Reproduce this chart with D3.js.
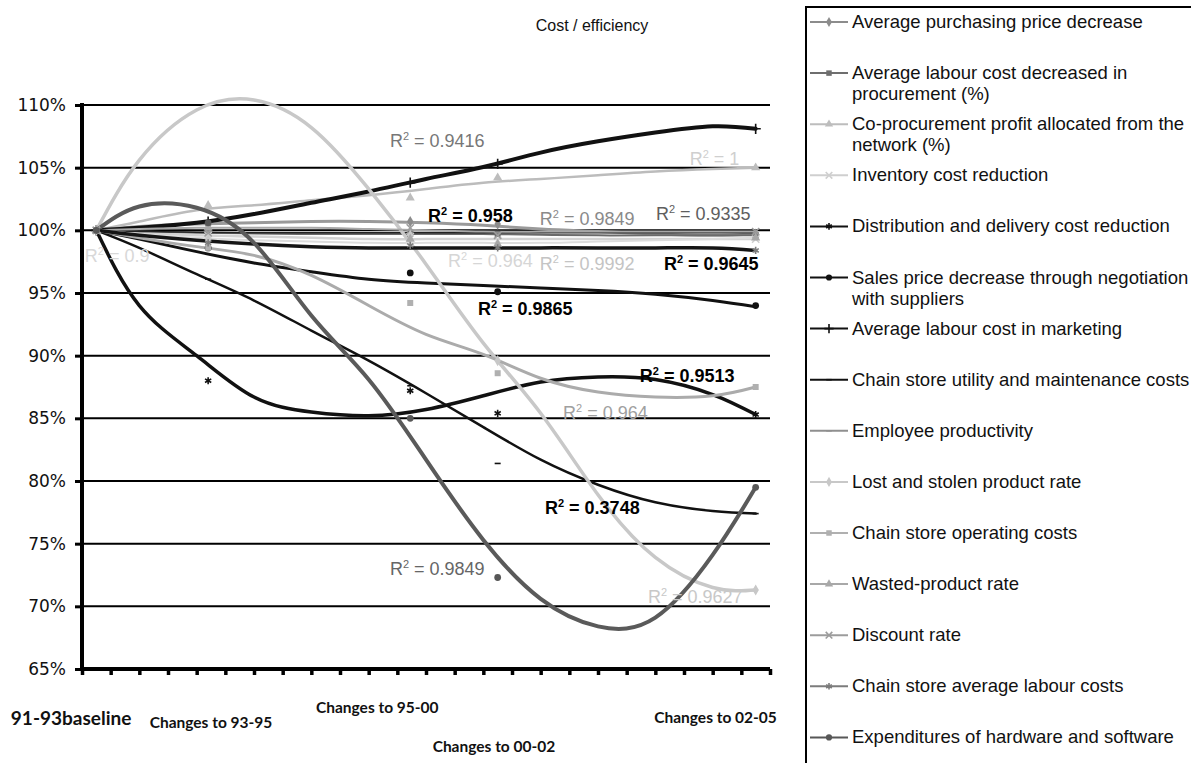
<!DOCTYPE html>
<html>
<head>
<meta charset="utf-8">
<script src="https://cdn.jsdelivr.net/npm/d3@7"></script>
<style>
  body { margin: 0; background: #fff; }
</style>
</head>
<body>
<div id="chart-area"></div>
<script>
/*
*    cost / efficiency trend chart
*/
var categories = ["91-93baseline", "Changes to 93-95", "Changes to 95-00", "Changes to 00-02", "Changes to 02-05"];
var categoryX = [0.5, 4.4, 11.45, 14.5, 23.5];
var yTicks = [65, 70, 75, 80, 85, 90, 95, 100, 105, 110];

var seriesNames = [
  "Average purchasing price decrease",
  "Average labour cost decreased in procurement (%)",
  "Co-procurement profit allocated from the network (%)",
  "Inventory cost reduction",
  "Distribution and delivery cost reduction",
  "Sales price decrease through negotiation with suppliers",
  "Average labour cost in marketing",
  "Chain store utility and maintenance costs",
  "Employee productivity",
  "Lost and stolen product rate",
  "Chain store operating costs",
  "Wasted-product rate",
  "Discount rate",
  "Chain store average labour costs",
  "Expenditures of hardware and software"
];

// observed values (%) per category
var seriesValues = [
  [100, 100.4, 100.7, 100.5, 99.7],
  [100, 99.9, 99.7, 99.7, 99.6],
  [100, 102.0, 102.6, 104.2, 105.0],
  [100, 99.6, 99.5, 99.2, 99.3],
  [100, 88.0, 87.2, 85.4, 85.3],
  [100, 98.6, 96.6, 95.1, 94.0],
  [100, 100.7, 103.8, 105.3, 108.1],
  [100, 96.1, 87.6, 81.4, 77.4],
  [100, 99.9, 99.8, 99.8, 99.8],
  [100, 99.2, 99.6, 89.6, 71.3],
  [100, 98.6, 94.2, 88.6, 87.5],
  [100, 100.2, 99.3, 98.9, 99.4],
  [100, 99.8, 100.2, 99.6, 99.9],
  [100, 99.0, 98.8, 98.6, 98.4],
  [100, 100.6, 85.0, 72.3, 79.5]
];

// trendline values at these x positions
var trendX = [0.5, 2, 4, 6, 8, 10, 12, 14, 16, 18, 20, 22, 23.5];
var trendValues = [
  [100, 100.3, 100.5, 100.6, 100.7, 100.7, 100.6, 100.4, 100.1, 99.9, 99.7, 99.6, 99.7],
  [100, 99.9, 99.8, 99.75, 99.7, 99.7, 99.7, 99.7, 99.65, 99.6, 99.6, 99.6, 99.6],
  [100, 100.7, 101.6, 102.0, 102.4, 102.8, 103.3, 103.8, 104.1, 104.4, 104.7, 104.9, 105.0],
  [100, 99.8, 99.6, 99.5, 99.4, 99.3, 99.3, 99.3, 99.3, 99.3, 99.3, 99.3, 99.3],
  [100, 94.0, 90.0, 86.7, 85.5, 85.2, 85.7, 86.8, 87.9, 88.3, 88.1, 86.9, 85.3],
  [100, 99.3, 98.3, 97.4, 96.7, 96.1, 95.8, 95.6, 95.4, 95.2, 94.9, 94.4, 93.9],
  [100, 100.2, 100.6, 101.3, 102.2, 103.1, 104.1, 105.05, 106.2, 107.1, 107.8, 108.3, 108.1],
  [100, 98.6, 96.5, 94.4, 92.0, 89.6, 87.0, 84.3, 81.7, 79.7, 78.3, 77.6, 77.4],
  [100, 99.9, 99.85, 99.8, 99.8, 99.8, 99.8, 99.8, 99.8, 99.8, 99.8, 99.8, 99.8],
  [100, 105.6, 109.6, 110.4, 108.2, 103.3, 97.3, 91.0, 85.4, 78.9, 73.9, 71.5, 71.3],
  [100, 99.4, 98.7, 98.0, 96.4, 94.0, 91.7, 90.1, 88.2, 87.1, 86.7, 86.8, 87.5],
  [100, 99.7, 99.4, 99.2, 99.1, 99.0, 99.0, 99.0, 99.0, 99.1, 99.2, 99.3, 99.4],
  [100, 100.1, 100.2, 100.2, 100.2, 100.1, 100.0, 99.9, 99.9, 99.9, 99.9, 99.9, 99.9],
  [100, 99.6, 99.2, 98.9, 98.7, 98.6, 98.6, 98.6, 98.6, 98.6, 98.6, 98.6, 98.4],
  [100, 101.9, 101.8, 99.0, 93.2, 88.1, 81.7, 75.3, 70.6, 68.4, 69.1, 74.1, 79.5]
];

var r2Values = ["0.9849", "0.9335", "1", "0.9992", "0.9513", "0.9865", "0.9416", "0.3748",
  "0.958", "0.9627", "0.964", "0.964", "0.9", "0.9645", "0.9849"];

// styling / layout
var markerColors = ["#8c8c8c", "#6e6e6e", "#bdbdbd", "#cfcfcf", "#111", "#111", "#111", "#111",
  "#8f8f8f", "#c8c8c8", "#b0b0b0", "#a8a8a8", "#9c9c9c", "#7c7c7c", "#575757"];
var trendColors = ["#9a9a9a", "#6a6a6a", "#bcbcbc", "#d2d2d2", "#111", "#111", "#111", "#111",
  "#222", "#c8c8c8", "#ababab", "#dcdcdc", "#a8a8a8", "#151515", "#5a5a5a"];
var trendWidths = [3, 2, 2.5, 2.5, 3.5, 3, 4, 2.5, 1.5, 3.5, 3, 2, 2, 3.5, 4];
var markerTypes = ["diamond", "square", "triangle", "times", "star", "circle", "plus", "dash",
  "dash", "diamond", "square", "triangle", "times", "star", "circle"];
var labelAt = [[15.97, 100.4], [20.02, 100.8], [21.2, 105.2], [15.97, 96.83], [19.46, 87.9],
  [13.81, 93.24], [10.74, 106.65], [16.15, 77.35], [12.07, 100.66], [19.74, 70.26],
  [16.78, 84.94], [12.77, 97.07], [0.1, 97.47], [20.3, 96.83], [10.74, 72.5]];
var labelColors = ["#8a8a8a", "#5e5e5e", "#cfcfcf", "#c4c4c4", "#000", "#000", "#777", "#000",
  "#000", "#c8c8c8", "#a0a0a0", "#d6d6d6", "#d8d8d8", "#000", "#666"];
var labelBold = [false, false, false, false, true, true, false, true, true, false, false, false, false, true, false];
var catLabelPos = [[-0.38, 725, 19], [4.5, 728, 15.5], [10.3, 713, 15.5], [14.37, 752, 15.5], [22.1, 723, 15.5]];

var width = 1191, height = 763;
var svg = d3.select("#chart-area")
  .append("svg")
  .attr("width", width)
  .attr("height", height)
  .style("background", "#fff");

var x = d3.scaleLinear().domain([0, 24]).range([82, 770]);
var y = d3.scaleLinear().domain([65, 110]).range([669, 105]);

// title
svg.append("text")
  .attr("x", 592)
  .attr("y", 31)
  .attr("text-anchor", "middle")
  .attr("font-family", "Liberation Sans, Arial, sans-serif")
  .attr("font-size", "16px")
  .style("fill", "#111")
  .text("Cost / efficiency");

// gridlines
svg.append("g").selectAll("line")
  .data(yTicks.filter(d => d > 65))
  .enter().append("line")
  .attr("x1", x(0)).attr("x2", x(24))
  .attr("y1", d => y(d)).attr("y2", d => y(d))
  .attr("stroke", "#000")
  .attr("stroke-width", 2);

// y axis
var yAxisG = svg.append("g")
  .attr("transform", "translate(" + x(0) + ",0)")
  .call(d3.axisLeft(y).tickValues(yTicks).tickSize(7).tickPadding(9).tickFormat(d => d + "%"));
yAxisG.select(".domain").attr("stroke", "#000").attr("stroke-width", 4)
  .attr("d", "M0," + (y(110) - 2) + "V" + y(65));
yAxisG.selectAll(".tick line").attr("stroke", "#000").attr("stroke-width", 3);
yAxisG.selectAll("text")
  .attr("font-family", "DejaVu Sans, sans-serif")
  .attr("font-size", "17px")
  .style("fill", "#111");

// x axis
var xAxisG = svg.append("g")
  .attr("transform", "translate(0," + y(65) + ")")
  .call(d3.axisBottom(x).ticks(24).tickSize(6).tickFormat(""));
xAxisG.select(".domain").attr("stroke", "#000").attr("stroke-width", 4)
  .attr("d", "M" + (x(0) - 2) + ",0H" + x(24));
xAxisG.selectAll(".tick line").attr("stroke", "#000").attr("stroke-width", 3.5);

// category labels
svg.append("g").selectAll("text")
  .data(categories)
  .enter().append("text")
  .attr("x", (d, i) => x(catLabelPos[i][0]))
  .attr("y", (d, i) => catLabelPos[i][1])
  .attr("text-anchor", "middle")
  .attr("font-family", "Lato, Open Sans, sans-serif")
  .attr("font-weight", "bold")
  .attr("font-size", (d, i) => catLabelPos[i][2] + "px")
  .style("fill", "#111")
  .text(d => d);

// trendlines
var trendLine = d3.line()
  .x(d => x(d[0]))
  .y(d => y(d[1]))
  .curve(d3.curveNatural);

svg.append("g").selectAll("path")
  .data(trendValues)
  .enter().append("path")
  .attr("d", vals => trendLine(vals.map((v, j) => [trendX[j], v])))
  .attr("fill", "none")
  .attr("stroke", (d, i) => trendColors[i])
  .attr("stroke-width", (d, i) => trendWidths[i])
  .attr("stroke-linecap", "round");

// markers
var dashSymbol = {
  draw: function(context, size) {
    var r = Math.sqrt(size) / 2;
    context.moveTo(-r, 0);
    context.lineTo(r, 0);
  }
};
var symbolFor = {
  diamond: d3.symbolDiamond,
  square: d3.symbolSquare,
  triangle: d3.symbolTriangle,
  circle: d3.symbolCircle,
  times: d3.symbolTimes || d3.symbolX || d3.symbolCross,
  star: d3.symbolAsterisk || d3.symbolTimes || d3.symbolCross,
  plus: d3.symbolPlus || d3.symbolCross,
  dash: dashSymbol
};
var strokeOnly = { times: true, star: true, plus: true, dash: true };

function drawMarker(sel, type, color, size) {
  sel.attr("d", d3.symbol().type(symbolFor[type]).size(size))
    .attr("fill", strokeOnly[type] ? "none" : color)
    .attr("stroke", strokeOnly[type] ? color : "none")
    .attr("stroke-width", 1.6);
}

var markerG = svg.append("g");
seriesValues.forEach((vals, i) => {
  markerG.selectAll(".m" + i)
    .data(vals)
    .enter().append("path")
    .attr("class", "m" + i)
    .attr("transform", (d, j) => "translate(" + x(categoryX[j]) + "," + y(d) + ")")
    .call(drawMarker, markerTypes[i], markerColors[i], 36);
});

// R² labels
var labelG = svg.append("g");
r2Values.forEach((r, i) => {
  var t = labelG.append("text")
    .attr("x", x(labelAt[i][0]))
    .attr("y", y(labelAt[i][1]))
    .attr("font-family", "Liberation Sans, Arial, sans-serif")
    .attr("font-size", "18px")
    .attr("font-weight", labelBold[i] ? "bold" : "normal")
    .style("fill", labelColors[i]);
  t.append("tspan").text("R");
  t.append("tspan").attr("dy", -7).attr("font-size", "11px").text("2");
  t.append("tspan").attr("dy", 7).text(" = " + r);
});

// legend
var legendG = svg.append("g");
legendG.append("rect")
  .attr("x", 806).attr("y", 7)
  .attr("width", 420).attr("height", 800)
  .attr("fill", "#fff")
  .attr("stroke", "#000")
  .attr("stroke-width", 2);

var wrapAt = { 1: ["Average labour cost decreased in", "procurement (%)"],
  2: ["Co-procurement profit allocated from the", "network (%)"],
  5: ["Sales price decrease through negotiation", "with suppliers"] };

seriesNames.forEach((name, i) => {
  var ly = 22 + i * 51.1;
  legendG.append("line")
    .attr("x1", 810).attr("x2", 848)
    .attr("y1", ly).attr("y2", ly)
    .attr("stroke", markerColors[i])
    .attr("stroke-width", 2);
  legendG.append("path")
    .attr("transform", "translate(829," + ly + ")")
    .call(drawMarker, markerTypes[i], markerColors[i], 30);
  var lines = wrapAt[i] || [name];
  var t = legendG.append("text")
    .attr("x", 852)
    .attr("y", ly + 6)
    .attr("font-family", "Liberation Sans, Arial, sans-serif")
    .attr("font-size", "18.5px")
    .style("fill", "#111");
  lines.forEach((l, k) => {
    t.append("tspan").attr("x", 852).attr("dy", k ? 21 : 0).text(l);
  });
});
</script>
</body>
</html>
